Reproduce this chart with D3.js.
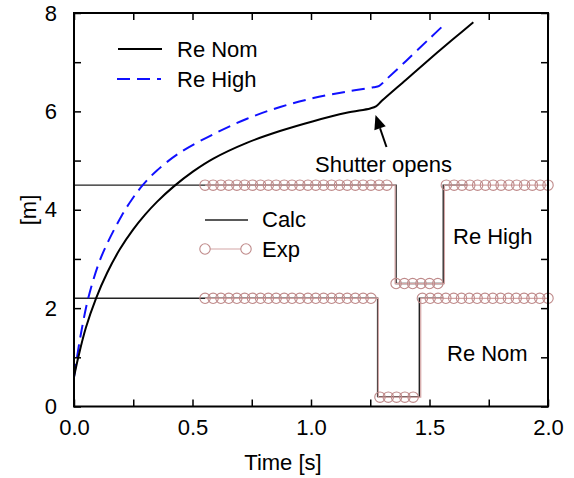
<!DOCTYPE html>
<html>
<head>
<meta charset="utf-8">
<script src="https://cdn.jsdelivr.net/npm/d3@7"></script>
<style>
  html, body { margin: 0; padding: 0; background: #fff; }
  svg { display: block; font-family: "Liberation Sans", Arial, Helvetica, sans-serif; }
</style>
</head>
<body>
<svg id="chart" width="574" height="478"></svg>
<script>
// ---- data ----
const xTickValues = [0, 0.25, 0.5, 0.75, 1.0, 1.25, 1.5, 1.75, 2.0];
const xTickLabels = ["0.0", "", "0.5", "", "1.0", "", "1.5", "", "2.0"];
const yTickValues = [0, 1, 2, 3, 4, 5, 6, 7, 8];
const yTickLabels = ["0", "", "2", "", "4", "", "6", "", "8"];

// Re Nom penetration curve (solid black)
const nomT = [0, 0.018, 0.05, 0.093, 0.14, 0.194, 0.25, 0.3, 0.35, 0.42, 0.503, 0.588, 0.729, 0.869, 1.01, 1.15, 1.25, 1.274, 1.3, 1.4, 1.5, 1.6, 1.685];
const nomY = [0.6, 1.0, 1.6, 2.2, 2.72, 3.2, 3.6, 3.9, 4.16, 4.47, 4.78, 5.04, 5.36, 5.60, 5.80, 5.97, 6.06, 6.1, 6.22, 6.64, 7.06, 7.47, 7.81];

// Re High penetration curve (dashed blue)
const highT = [0, 0.011, 0.03, 0.06, 0.1, 0.131, 0.2, 0.25, 0.29, 0.35, 0.45, 0.59, 0.73, 0.87, 1.01, 1.15, 1.263, 1.288, 1.32, 1.4, 1.5, 1.568];
const highY = [0.6, 0.95, 1.5, 2.2, 2.85, 3.22, 3.87, 4.25, 4.5, 4.8, 5.17, 5.54, 5.85, 6.09, 6.27, 6.4, 6.49, 6.52, 6.66, 7.02, 7.48, 7.79];

// Calc step signals
const calcHighT = [0, 1.359, 1.359, 1.558, 1.558, 1.66];
const calcHighY = [4.5, 4.5, 2.5, 2.5, 4.5, 4.5];
const calcNomT = [0, 1.281, 1.281, 1.457, 1.457, 1.558];
const calcNomY = [2.2, 2.2, 0.2, 0.2, 2.2, 2.2];

// Exp step signals (marker samples)
const expHighT = [0.553, 0.587, 0.62, 0.653, 0.687, 0.72, 0.753, 0.787, 0.82, 0.853, 0.887, 0.92, 0.953, 0.987, 1.02, 1.053, 1.087, 1.12, 1.153, 1.187, 1.22, 1.253, 1.287, 1.32,
                  1.359, 1.394, 1.429, 1.464, 1.5, 1.535,
                  1.571, 1.604, 1.637, 1.670, 1.703, 1.736, 1.769, 1.802, 1.835, 1.868, 1.901, 1.934, 1.967, 2.0];
const expHighY = [4.5, 4.5, 4.5, 4.5, 4.5, 4.5, 4.5, 4.5, 4.5, 4.5, 4.5, 4.5, 4.5, 4.5, 4.5, 4.5, 4.5, 4.5, 4.5, 4.5, 4.5, 4.5, 4.5, 4.5,
                  2.5, 2.5, 2.5, 2.5, 2.5, 2.5,
                  4.5, 4.5, 4.5, 4.5, 4.5, 4.5, 4.5, 4.5, 4.5, 4.5, 4.5, 4.5, 4.5, 4.5];
const expHighLineT = [0.553, 1.355, 1.355, 1.563, 1.563, 2.0];
const expHighLineY = [4.5, 4.5, 2.5, 2.5, 4.5, 4.5];

const expNomT = [0.553, 0.587, 0.62, 0.653, 0.687, 0.72, 0.753, 0.787, 0.82, 0.853, 0.887, 0.92, 0.953, 0.987, 1.02, 1.053, 1.087, 1.12, 1.153, 1.187, 1.22, 1.253,
                 1.291, 1.326, 1.361, 1.396, 1.431,
                 1.47, 1.503, 1.536, 1.569, 1.602, 1.635, 1.668, 1.701, 1.734, 1.767, 1.8, 1.833, 1.866, 1.899, 1.932, 1.965, 2.0];
const expNomY = [2.2, 2.2, 2.2, 2.2, 2.2, 2.2, 2.2, 2.2, 2.2, 2.2, 2.2, 2.2, 2.2, 2.2, 2.2, 2.2, 2.2, 2.2, 2.2, 2.2, 2.2, 2.2,
                 0.19, 0.19, 0.19, 0.19, 0.19,
                 2.2, 2.2, 2.2, 2.2, 2.2, 2.2, 2.2, 2.2, 2.2, 2.2, 2.2, 2.2, 2.2, 2.2, 2.2, 2.2, 2.2];
const expNomLineT = [0.553, 1.284, 1.284, 1.463, 1.463, 2.0];
const expNomLineY = [2.2, 2.2, 0.19, 0.19, 2.2, 2.2];

// ---- layout ----
const svg = d3.select("#chart");
const L = 74, R = 548, T = 13, B = 406.5;
const x = d3.scaleLinear().domain([0, 2]).range([L, R]);
const y = d3.scaleLinear().domain([0, 8]).range([B, T]);
const FONT = "Liberation Sans, Arial, Helvetica, sans-serif";

const zip = (a, b) => a.map((v, i) => [v, b[i]]);
const line = d3.line().x(d => x(d[0])).y(d => y(d[1]));
const smooth = d3.line().x(d => x(d[0])).y(d => y(d[1])).curve(d3.curveCatmullRom.alpha(0.5));

const plot = svg.append("g");

// calc step lines
plot.append("path").attr("d", line(zip(calcHighT, calcHighY)))
  .attr("fill", "none").attr("stroke", "#222").attr("stroke-width", 1.4);
plot.append("path").attr("d", line(zip(calcNomT, calcNomY)))
  .attr("fill", "none").attr("stroke", "#222").attr("stroke-width", 1.4);

// exp lines + markers
const expColor = "#bf8a8a";
[[expHighLineT, expHighLineY, expHighT, expHighY], [expNomLineT, expNomLineY, expNomT, expNomY]].forEach(([lt, ly, mt, my]) => {
  plot.append("path").attr("d", line(zip(lt, ly)))
    .attr("fill", "none").attr("stroke", "#d4a5a5").attr("stroke-width", 1.2);
  plot.selectAll(null).data(zip(mt, my)).enter().append("circle")
    .attr("cx", d => x(d[0])).attr("cy", d => y(d[1])).attr("r", 5.2)
    .attr("fill", "none").attr("stroke", expColor).attr("stroke-width", 1.1);
});

// penetration curves
plot.append("path").attr("d", smooth(zip(highT, highY)))
  .attr("fill", "none").attr("stroke", "#1010ff").attr("stroke-width", 2)
  .attr("stroke-dasharray", "13,7");
plot.append("path").attr("d", smooth(zip(nomT, nomY)))
  .attr("fill", "none").attr("stroke", "#000").attr("stroke-width", 2);

// ---- axes ----
const fmtX = (d) => xTickLabels[xTickValues.indexOf(d)];
const fmtY = (d) => yTickLabels[yTickValues.indexOf(d)];
const gB = svg.append("g").attr("transform", `translate(0,${B})`)
  .call(d3.axisBottom(x).tickValues(xTickValues).tickFormat(fmtX).tickSizeInner(-7).tickSizeOuter(0).tickPadding(13));
const gT = svg.append("g").attr("transform", `translate(0,${T})`)
  .call(d3.axisTop(x).tickValues(xTickValues).tickFormat("").tickSizeInner(-7).tickSizeOuter(0));
const gL = svg.append("g").attr("transform", `translate(${L},0)`)
  .call(d3.axisLeft(y).tickValues(yTickValues).tickFormat(fmtY).tickSizeInner(-7).tickSizeOuter(0).tickPadding(17));
const gR = svg.append("g").attr("transform", `translate(${R},0)`)
  .call(d3.axisRight(y).tickValues(yTickValues).tickFormat("").tickSizeInner(-7).tickSizeOuter(0));
[gB, gT, gL, gR].forEach(g => {
  g.select(".domain").remove();
  g.selectAll(".tick line").attr("stroke", "#000").attr("stroke-width", 1.5);
  g.selectAll("text").attr("font-family", FONT).attr("font-size", 22).attr("fill", "#000");
});
svg.append("rect").attr("x", L).attr("y", T).attr("width", R - L).attr("height", B - T)
  .attr("fill", "none").attr("stroke", "#000").attr("stroke-width", 2);

// axis titles
svg.append("text").attr("x", 283).attr("y", 470).attr("text-anchor", "middle")
  .attr("font-family", FONT).attr("font-size", 22).text("Time [s]");
svg.append("text").attr("transform", "translate(36,210) rotate(-90)").attr("text-anchor", "middle")
  .attr("font-family", FONT).attr("font-size", 22).text("[m]");

// ---- legends ----
const leg = svg.append("g").attr("font-family", FONT).attr("font-size", 22);
leg.append("line").attr("x1", 118).attr("x2", 162).attr("y1", 49).attr("y2", 49)
  .attr("stroke", "#000").attr("stroke-width", 2);
leg.append("text").attr("x", 177).attr("y", 57).text("Re Nom");
leg.append("line").attr("x1", 117).attr("x2", 161).attr("y1", 79).attr("y2", 79)
  .attr("stroke", "#1010ff").attr("stroke-width", 2).attr("stroke-dasharray", "13,7");
leg.append("text").attr("x", 177).attr("y", 87).text("Re High");

leg.append("line").attr("x1", 205).attr("x2", 248).attr("y1", 220).attr("y2", 220)
  .attr("stroke", "#222").attr("stroke-width", 1.4);
leg.append("text").attr("x", 262).attr("y", 227).text("Calc");
leg.append("line").attr("x1", 205).attr("x2", 246).attr("y1", 249).attr("y2", 249)
  .attr("stroke", "#d4a5a5").attr("stroke-width", 1.2);
[205, 246].forEach(cx => leg.append("circle").attr("cx", cx).attr("cy", 249).attr("r", 5.2)
  .attr("fill", "#fff").attr("stroke", expColor).attr("stroke-width", 1.1));
leg.append("text").attr("x", 262).attr("y", 257).text("Exp");

// ---- annotations ----
const ann = svg.append("g").attr("font-family", FONT).attr("font-size", 22);
ann.append("text").attr("x", 315).attr("y", 172).text("Shutter opens");
ann.append("text").attr("x", 453).attr("y", 244).text("Re High");
ann.append("text").attr("x", 447).attr("y", 361).text("Re Nom");

// arrow
const ax0 = 386.5, ay0 = 147, ax1 = 375.5, ay1 = 115;
const ang = Math.atan2(ay1 - ay0, ax1 - ax0);
const hl = 14, hw = 6;
const bx = ax1 - hl * Math.cos(ang), by = ay1 - hl * Math.sin(ang);
ann.append("line").attr("x1", ax0).attr("y1", ay0).attr("x2", bx).attr("y2", by)
  .attr("stroke", "#000").attr("stroke-width", 2);
ann.append("path").attr("d", `M${ax1},${ay1} L${bx + hw * Math.sin(ang)},${by - hw * Math.cos(ang)} L${bx - hw * Math.sin(ang)},${by + hw * Math.cos(ang)} Z`)
  .attr("fill", "#000");
</script>
</body>
</html>
